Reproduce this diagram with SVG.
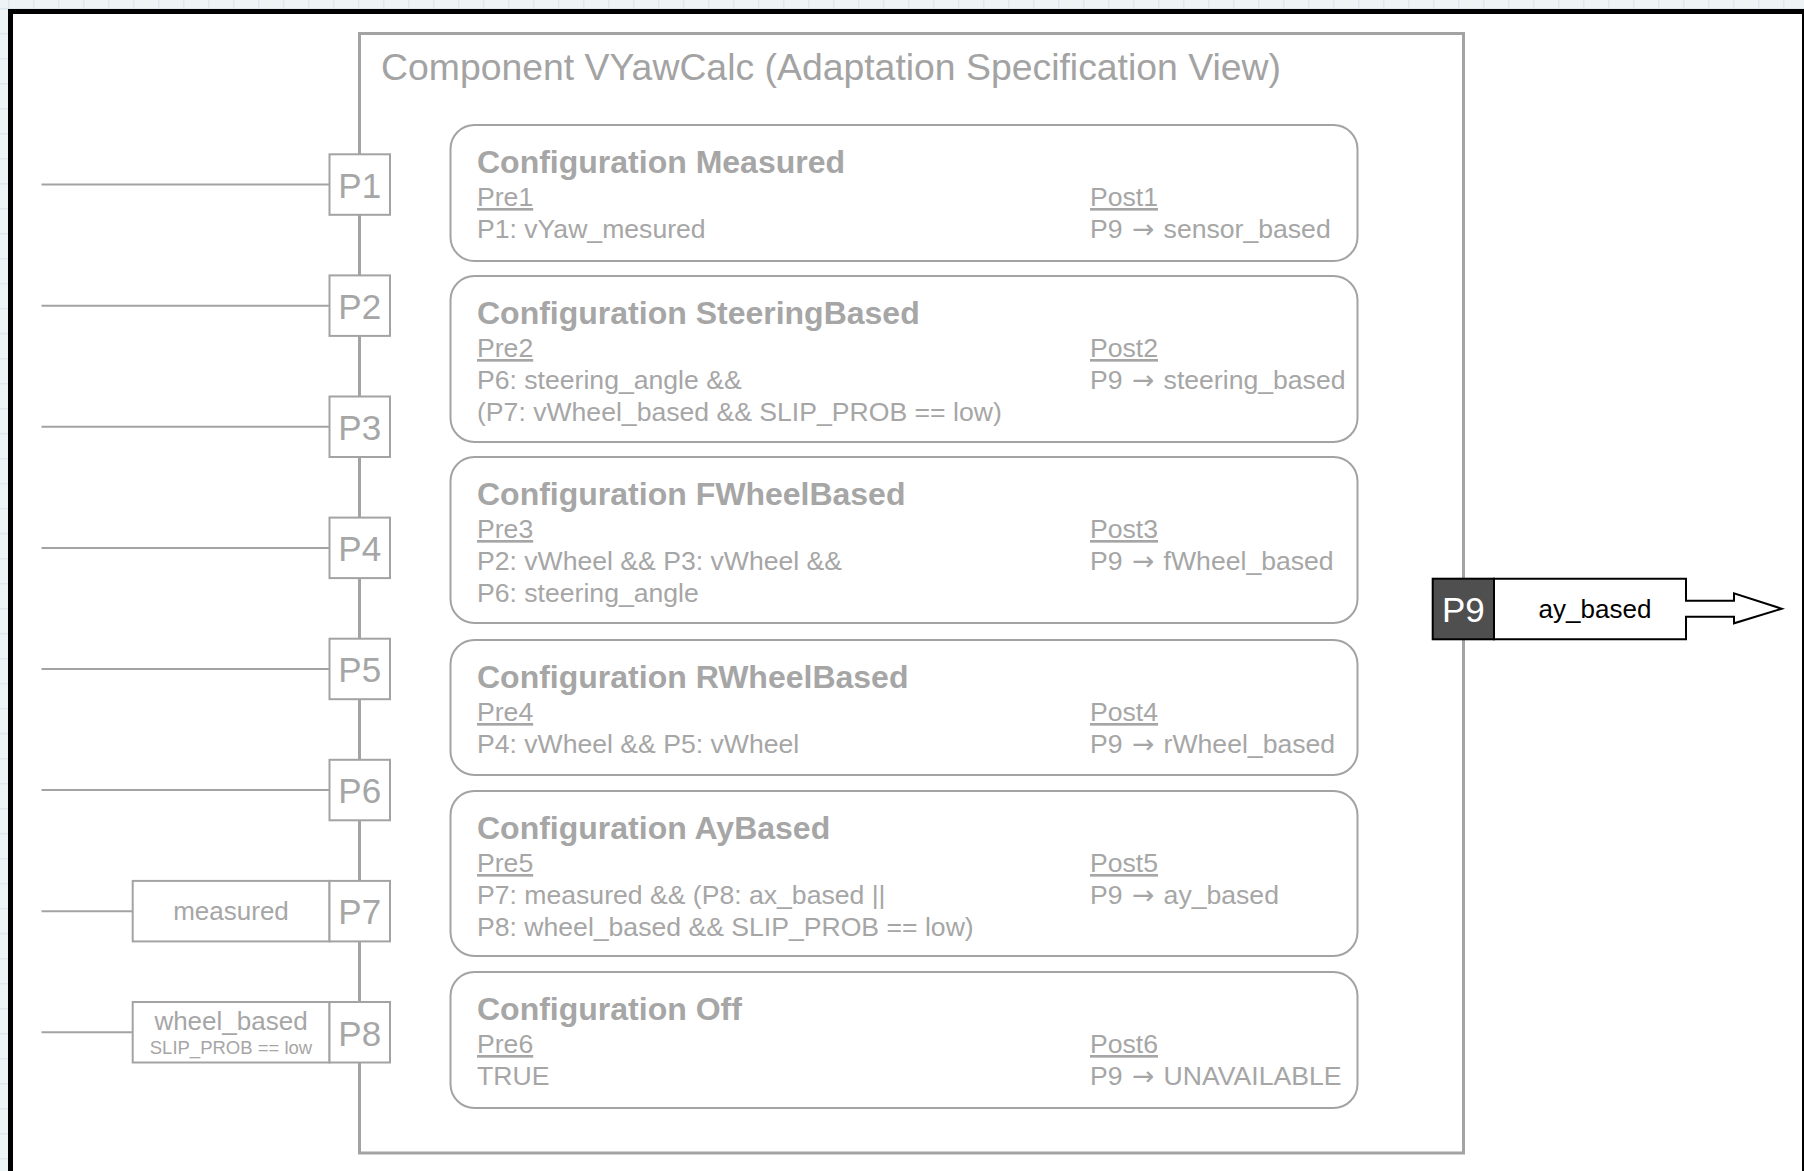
<svg xmlns="http://www.w3.org/2000/svg" width="1804" height="1171" viewBox="0 0 1804 1171">
  <defs>
    <pattern id="grid" x="8.3" y="8.3" width="25" height="25" patternUnits="userSpaceOnUse">
      <rect width="25" height="25" fill="#eef3f6"/>
      <path d="M0 0.5 H25 M0.5 0 V25" stroke="#d6e4ec" stroke-width="1" fill="none"/>
    </pattern>
    <style>
      text { font-family: "Liberation Sans", Arial, sans-serif; }
      .title { font-size: 37px; fill: #a3a3a3; }
      .cfg rect { fill: #ffffff; stroke: #a3a3a3; stroke-width: 2; }
      .head { font-size: 32px; font-weight: bold; fill: #a6a6a6; }
      .body { font-size: 26.6px; fill: #a6a6a6; }
      .arr { font-family: "DejaVu Sans", sans-serif; }
      .ul { text-decoration: underline; }
      .port rect { fill: #ffffff; stroke: #a3a3a3; stroke-width: 2; }
      .plabel { font-size: 35px; fill: #a6a6a6; text-anchor: middle; }
      .vlabel { font-size: 26px; fill: #a6a6a6; text-anchor: middle; }
      .small { font-size: 18.5px; fill: #a6a6a6; text-anchor: middle; }
      .wire { stroke: #a3a3a3; stroke-width: 2; fill: none; }
    </style>
  </defs>

  <!-- canvas grid and frame -->
  <rect x="0" y="0" width="1804" height="1171" fill="url(#grid)"/>
  <rect x="10.5" y="11.5" width="1794" height="1200" fill="#ffffff" stroke="#000000" stroke-width="5"/>

  <!-- component boundary -->
  <g id="component">
    <rect x="359.5" y="33.5" width="1104" height="1119.5" fill="#ffffff" stroke="#a3a3a3" stroke-width="3"/>
    <text class="title" x="381" y="80" textLength="900" lengthAdjust="spacingAndGlyphs">Component VYawCalc (Adaptation Specification View)</text>
  </g>

  <!-- input wires -->
  <g id="connectors">
    <line class="wire" x1="41.5" y1="184.6" x2="329.5" y2="184.6"/>
    <line class="wire" x1="41.5" y1="305.7" x2="329.5" y2="305.7"/>
    <line class="wire" x1="41.5" y1="426.8" x2="329.5" y2="426.8"/>
    <line class="wire" x1="41.5" y1="547.9" x2="329.5" y2="547.9"/>
    <line class="wire" x1="41.5" y1="669" x2="329.5" y2="669"/>
    <line class="wire" x1="41.5" y1="790.1" x2="329.5" y2="790.1"/>
    <line class="wire" x1="41.5" y1="911.2" x2="132.7" y2="911.2"/>
    <line class="wire" x1="41.5" y1="1032.3" x2="132.7" y2="1032.3"/>
  </g>

  <!-- configurations -->
  <g id="cfg-measured" class="cfg">
    <rect x="450.5" y="125" width="907" height="136" rx="24"/>
    <text class="head" x="477" y="173">Configuration Measured</text>
    <text class="body ul" x="477" y="206">Pre1</text>
    <text class="body" x="477" y="238">P1: vYaw_mesured</text>
    <text class="body ul" x="1090" y="206">Post1</text>
    <text class="body" x="1090" y="238">P9 <tspan class="arr" dx="2">→</tspan><tspan dx="2"> sensor_based</tspan></text>
  </g>

  <g id="cfg-steering" class="cfg">
    <rect x="450.5" y="276" width="907" height="166" rx="24"/>
    <text class="head" x="477" y="324">Configuration SteeringBased</text>
    <text class="body ul" x="477" y="357">Pre2</text>
    <text class="body" x="477" y="389">P6: steering_angle &amp;&amp;</text>
    <text class="body" x="477" y="421">(P7: vWheel_based &amp;&amp; SLIP_PROB == low)</text>
    <text class="body ul" x="1090" y="357">Post2</text>
    <text class="body" x="1090" y="389">P9 <tspan class="arr" dx="2">→</tspan><tspan dx="2"> steering_based</tspan></text>
  </g>

  <g id="cfg-fwheel" class="cfg">
    <rect x="450.5" y="457" width="907" height="166" rx="24"/>
    <text class="head" x="477" y="505">Configuration FWheelBased</text>
    <text class="body ul" x="477" y="538">Pre3</text>
    <text class="body" x="477" y="570">P2: vWheel &amp;&amp; P3: vWheel &amp;&amp;</text>
    <text class="body" x="477" y="602">P6: steering_angle</text>
    <text class="body ul" x="1090" y="538">Post3</text>
    <text class="body" x="1090" y="570">P9 <tspan class="arr" dx="2">→</tspan><tspan dx="2"> fWheel_based</tspan></text>
  </g>

  <g id="cfg-rwheel" class="cfg">
    <rect x="450.5" y="640" width="907" height="135" rx="24"/>
    <text class="head" x="477" y="688">Configuration RWheelBased</text>
    <text class="body ul" x="477" y="721">Pre4</text>
    <text class="body" x="477" y="753">P4: vWheel &amp;&amp; P5: vWheel</text>
    <text class="body ul" x="1090" y="721">Post4</text>
    <text class="body" x="1090" y="753">P9 <tspan class="arr" dx="2">→</tspan><tspan dx="2"> rWheel_based</tspan></text>
  </g>

  <g id="cfg-ay" class="cfg">
    <rect x="450.5" y="791" width="907" height="165" rx="24"/>
    <text class="head" x="477" y="839">Configuration AyBased</text>
    <text class="body ul" x="477" y="872">Pre5</text>
    <text class="body" x="477" y="904">P7: measured &amp;&amp; (P8: ax_based ||</text>
    <text class="body" x="477" y="936">P8: wheel_based &amp;&amp; SLIP_PROB == low)</text>
    <text class="body ul" x="1090" y="872">Post5</text>
    <text class="body" x="1090" y="904">P9 <tspan class="arr" dx="2">→</tspan><tspan dx="2"> ay_based</tspan></text>
  </g>

  <g id="cfg-off" class="cfg">
    <rect x="450.5" y="972" width="907" height="136" rx="24"/>
    <text class="head" x="477" y="1020">Configuration Off</text>
    <text class="body ul" x="477" y="1053">Pre6</text>
    <text class="body" x="477" y="1085">TRUE</text>
    <text class="body ul" x="1090" y="1053">Post6</text>
    <text class="body" x="1090" y="1085">P9 <tspan class="arr" dx="2">→</tspan><tspan dx="2"> UNAVAILABLE</tspan></text>
  </g>

  <!-- input ports -->
  <g id="port-p1" class="port"><rect x="329.5" y="154.3" width="60.5" height="60.5"/><text class="plabel" x="359.7" y="197.8">P1</text></g>
  <g id="port-p2" class="port"><rect x="329.5" y="275.4" width="60.5" height="60.5"/><text class="plabel" x="359.7" y="318.9">P2</text></g>
  <g id="port-p3" class="port"><rect x="329.5" y="396.5" width="60.5" height="60.5"/><text class="plabel" x="359.7" y="440">P3</text></g>
  <g id="port-p4" class="port"><rect x="329.5" y="517.6" width="60.5" height="60.5"/><text class="plabel" x="359.7" y="561.1">P4</text></g>
  <g id="port-p5" class="port"><rect x="329.5" y="638.7" width="60.5" height="60.5"/><text class="plabel" x="359.7" y="682.2">P5</text></g>
  <g id="port-p6" class="port"><rect x="329.5" y="759.8" width="60.5" height="60.5"/><text class="plabel" x="359.7" y="803.3">P6</text></g>
  <g id="port-p7" class="port">
    <rect x="132.7" y="880.9" width="196.8" height="60.5"/>
    <text class="vlabel" x="231" y="920">measured</text>
    <rect x="329.5" y="880.9" width="60.5" height="60.5"/>
    <text class="plabel" x="359.7" y="924.4">P7</text>
  </g>
  <g id="port-p8" class="port">
    <rect x="132.7" y="1002" width="196.8" height="60.5"/>
    <text class="vlabel" x="231" y="1030">wheel_based</text>
    <text class="small" x="231" y="1054">SLIP_PROB == low</text>
    <rect x="329.5" y="1002" width="60.5" height="60.5"/>
    <text class="plabel" x="359.7" y="1045.5">P8</text>
  </g>

  <!-- output port -->
  <g id="port-p9">
    <path d="M1494 578.7 H1686 V600.7 H1734 V593.3 L1781.7 608.7 L1734 623.3 V616.7 H1686 V639.3 H1494 Z" fill="#ffffff" stroke="#000000" stroke-width="2"/>
    <rect x="1432.7" y="578.7" width="61.3" height="60.6" fill="#4f4f4f" stroke="#000000" stroke-width="2"/>
    <text x="1463.3" y="621.7" font-size="35" fill="#ffffff" text-anchor="middle">P9</text>
    <text x="1595" y="618" font-size="26" fill="#000000" text-anchor="middle">ay_based</text>
  </g>
</svg>
